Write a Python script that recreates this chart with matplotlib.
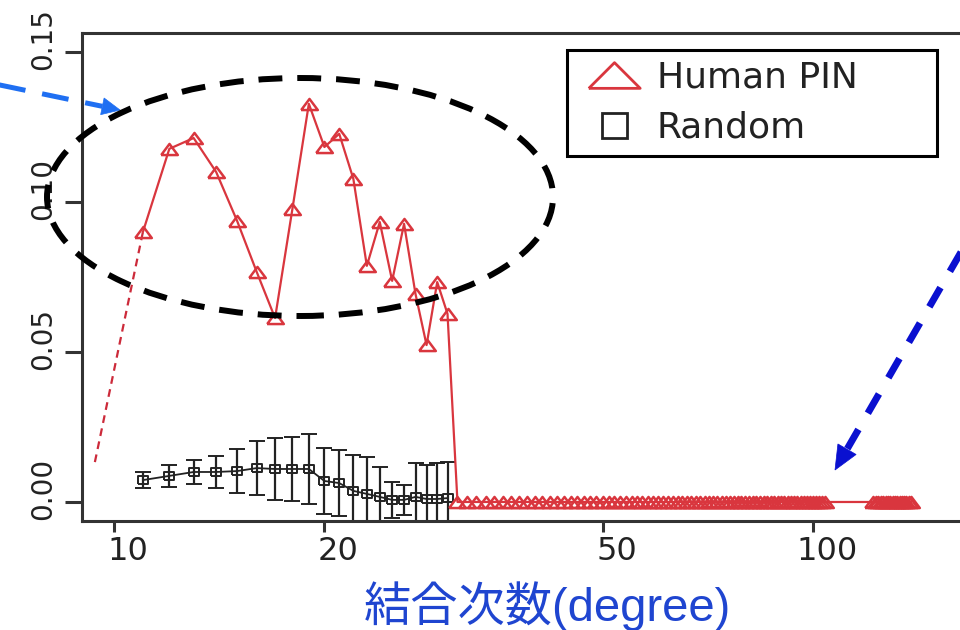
import numpy as np
import matplotlib.pyplot as plt
from matplotlib.patches import Ellipse, Polygon
from matplotlib.lines import Line2D
from matplotlib.ticker import NullLocator
import matplotlib.transforms as mtransforms

# --- data ---
pin_deg = [11, 12, 13, 14, 15, 16, 17, 18, 19, 20,
           21, 22, 23, 24, 25, 26, 27, 28, 29, 30]
pin_val = [0.090, 0.1177, 0.1213, 0.110, 0.0937, 0.0767, 0.0613, 0.0977, 0.1327, 0.1183,
           0.1227, 0.1077, 0.0787, 0.0933, 0.0737, 0.0927, 0.0693, 0.0523, 0.0733, 0.0627]
# long flat tail of the Human PIN curve (values sit on zero)
tail_deg = list(range(31, 105)) + list(range(122, 139))
tail_val = [0.0] * len(tail_deg)

rand_deg = [11, 12, 13, 14, 15, 16, 17, 18, 19, 20,
            21, 22, 23, 24, 25, 26, 27, 28, 29, 30]
rand_val = [0.0073, 0.0087, 0.0100, 0.0100, 0.0103, 0.0113, 0.0110, 0.0110, 0.0110, 0.0070,
            0.0063, 0.0037, 0.0027, 0.0017, 0.0007, 0.0007, 0.0017, 0.0010, 0.0010, 0.0013]
rand_err = [0.0028, 0.0037, 0.0040, 0.0053, 0.0073, 0.0090, 0.0104, 0.0108, 0.0117, 0.0110,
            0.0110, 0.0120, 0.0123, 0.0100, 0.0060, 0.0050, 0.0113, 0.0113, 0.0120, 0.0120]

xticks = [10, 20, 50, 100]
xticklabels = ['10', '20', '50', '100']
yticks = [0.0, 0.05, 0.10, 0.15]
yticklabels = ['0.00', '0.05', '0.10', '0.15']

legend_labels = ['Human PIN', 'Random']
xlabel = '結合次数(degree)'

# red dashed guide line start (lower end)
guide_x0, guide_y0 = 9.39, 0.0133

W, H = 960, 630


def fx(px):
    return px / W


def fy(py):
    return 1 - py / H


red = '#d9363e'
dark = '#222222'

fig = plt.figure(figsize=(9.6, 6.3), dpi=100)
ax = fig.add_axes([fx(82), fy(520.5), (975 - 82) / W, (520.5 - 33) / H])
ax.set_xscale('log')
ax.set_xlim(9, 170.5)
ax.set_ylim(-0.00617, 0.1563)

tri = [(-1.5, -1), (1.5, -1), (0, 1), (-1.5, -1)]
sq = [(-1.3, -1), (1.3, -1), (1.3, 1), (-1.3, 1), (-1.3, -1)]

all_deg = pin_deg + tail_deg
all_val = pin_val + tail_val
ax.plot(all_deg, all_val, color=red, lw=1.6, marker=tri, ms=12,
        mfc='none', mec=red, mew=1.8, zorder=3)

ax.errorbar(rand_deg, rand_val, yerr=rand_err, color=dark, lw=1.3,
            marker=sq, ms=7, mfc='none', mec=dark, mew=1.4,
            elinewidth=1.6, capsize=6, capthick=1.6, zorder=2)

ax.plot([guide_x0, pin_deg[0]], [guide_y0, pin_val[0]], color='#cc2a3a',
        lw=1.6, ls=(0, (3.5, 2.5)), zorder=2)

# axes styling
ax.set_xticks(xticks)
ax.set_xticklabels(xticklabels)
ax.xaxis.set_minor_locator(NullLocator())
ax.set_yticks(yticks)
ax.set_yticklabels(yticklabels)
for s in ['left', 'top', 'bottom']:
    ax.spines[s].set_color('#333333')
    ax.spines[s].set_linewidth(2.2)
ax.spines['right'].set_visible(False)
ax.tick_params(axis='x', length=8, width=2.2, pad=3, labelsize=23,
               color='#333333', labelcolor=dark)
ax.tick_params(axis='y', length=12, width=2.2, pad=6, labelsize=20,
               color='#333333', labelcolor=dark, labelrotation=90)
for t in ax.get_yticklabels():
    t.set_va('center')
    t.set_transform(t.get_transform() +
                    mtransforms.ScaledTranslation(0, 0.13, fig.dpi_scale_trans))
for t in ax.get_xticklabels():
    t.set_transform(t.get_transform() +
                    mtransforms.ScaledTranslation(0.14, 0, fig.dpi_scale_trans))

# legend
h1 = Line2D([], [], ls='none', marker=[(-2, -1), (2, -1), (0, 1), (-2, -1)],
            ms=37, mfc='none', mec=red, mew=2)
h2 = Line2D([], [], ls='none', marker='s', ms=18, mfc='none', mec=dark, mew=2)
leg = ax.legend([h1, h2], legend_labels, loc='upper left',
                bbox_to_anchor=(fx(567), fy(155), 370 / W, 105 / H),
                bbox_transform=fig.transFigure, mode='expand', fontsize=26,
                frameon=True, fancybox=False, edgecolor='black', framealpha=1,
                borderpad=0.3, labelspacing=0.44, handlelength=2.0,
                handletextpad=0.18, borderaxespad=0, numpoints=1)
leg.get_frame().set_linewidth(2.2)
for t in leg.get_texts():
    t.set_color(dark)

# dashed ellipse highlighting the peak region
ell = Ellipse((fx(300), fy(197)), 506 / W, 238 / H, transform=fig.transFigure,
              fill=False, ec='black', lw=4.3, ls=(0, (4, 2.5)), zorder=5)
fig.add_artist(ell)


def dashed_arrow(start, tip, color, lw, dashes, head_len, head_w):
    sx, sy = start
    tx, ty = tip
    d = np.array([tx - sx, ty - sy], dtype=float)
    u = d / np.hypot(*d)
    n = np.array([-u[1], u[0]])
    base = np.array([tx, ty]) - u * head_len
    fig.add_artist(Line2D([fx(sx), fx(base[0])], [fy(sy), fy(base[1])],
                          transform=fig.transFigure, color=color, lw=lw,
                          ls=(0, dashes), solid_capstyle='butt'))
    p1 = base + n * head_w / 2
    p2 = base - n * head_w / 2
    pts = [(fx(tx), fy(ty)), (fx(p1[0]), fy(p1[1])), (fx(p2[0]), fy(p2[1]))]
    fig.add_artist(Polygon(pts, closed=True, transform=fig.transFigure,
                           fc=color, ec=color, lw=0.5))


dashed_arrow((-5, 84), (120, 110), '#1f6ff2', 3.6, (5.4, 3.4), 18, 17)
dashed_arrow((968, 240), (835, 470), '#0a10d0', 5.0, (3.2, 2.7), 24, 21)

fig.text(fx(547), fy(606), xlabel, ha='center', va='center', fontsize=34,
         color='#1f45d0', family=['Liberation Sans', 'Noto Sans CJK JP'])

fig.savefig('out.png', dpi=100)
